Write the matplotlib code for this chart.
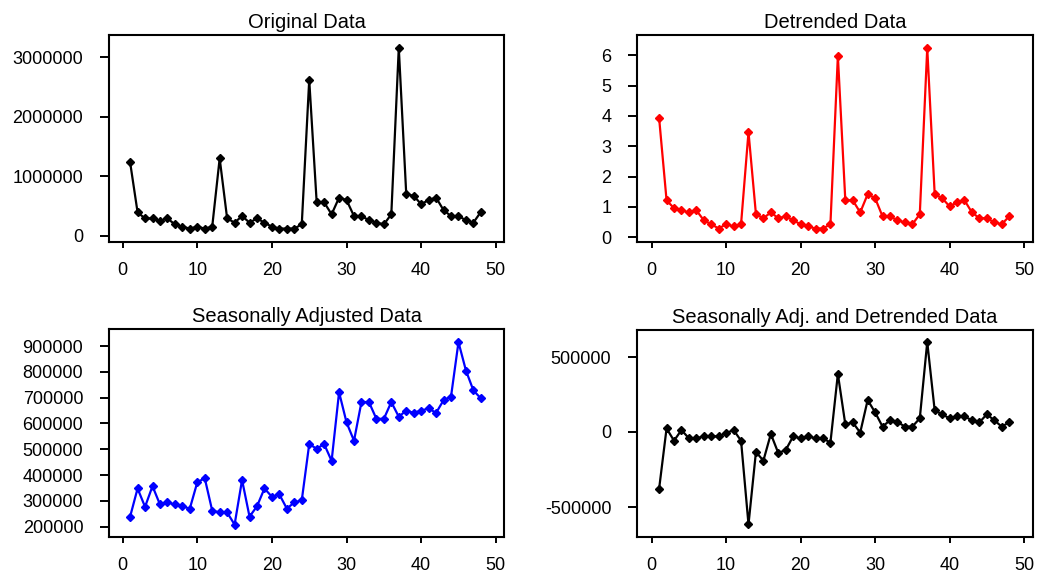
"""Four-panel view of a monthly series: original, detrended, seasonally adjusted, both."""

import numpy as np
import matplotlib
matplotlib.use('Agg')
import matplotlib.pyplot as plt

plt.rcParams['font.family'] = ['Liberation Sans', 'DejaVu Sans']

months = np.arange(1, 49)

original = [1234000, 393000, 290000, 290000, 250000, 290000, 190000, 150000,
            120000, 150000, 120000, 150000, 1300000, 290000, 220000, 330000,
            220000, 290000, 220000, 150000, 120000, 120000, 120000, 190000,
            2620000, 560000, 560000, 360000, 640000, 600000, 330000, 330000,
            260000, 220000, 190000, 360000, 3160000, 700000, 670000, 530000,
            600000, 640000, 430000, 330000, 330000, 260000, 220000, 400000]

detrended = [3.93, 1.22, 0.96, 0.89, 0.82, 0.89, 0.56, 0.43, 0.29, 0.43, 0.36, 0.43,
             3.47, 0.76, 0.63, 0.82, 0.63, 0.69, 0.56, 0.43, 0.36, 0.29, 0.29, 0.43,
             5.98, 1.22, 1.22, 0.82, 1.42, 1.29, 0.69, 0.69, 0.56, 0.49, 0.43, 0.76,
             6.24, 1.42, 1.29, 1.02, 1.15, 1.22, 0.82, 0.63, 0.63, 0.49, 0.43, 0.69]

seas_adj = [239000, 348000, 277000, 357000, 286000, 294000, 286000, 279000,
            270000, 372000, 388000, 262000, 255000, 255000, 208000, 381000,
            239000, 279000, 348000, 316000, 325000, 270000, 294000, 302000,
            520000, 502000, 520000, 455000, 721000, 604000, 533000, 683000,
            683000, 618000, 618000, 683000, 626000, 650000, 641000, 650000,
            658000, 641000, 690000, 704000, 915000, 805000, 728000, 697000]

seas_adj_detr = [-378000, 24000, -58000, 13000, -42000, -42000, -29000, -29000,
                 -29000, -7000, 13000, -58000, -616000, -133000, -191000, -13000,
                 -140000, -120000, -29000, -42000, -29000, -42000, -42000, -71000,
                 387000, 51000, 64000, -4000, 213000, 131000, 36000, 78000,
                 67000, 36000, 36000, 91000, 600000, 144000, 118000, 91000,
                 104000, 104000, 78000, 64000, 118000, 78000, 36000, 64000]

x_ticks = [0, 10, 20, 30, 40, 50]

fig = plt.figure(figsize=(10.4, 5.76), dpi=100)
W, H = 1040, 576


def make_ax(left, top, right, bottom):
    return fig.add_axes([left / W, 1 - bottom / H, (right - left) / W, (bottom - top) / H])


panels = [
    (make_ax(109, 35, 504, 242), original, 'black', "Original Data",
     (-1.83, 51.1), (-106000, 3375000), [0, 1000000, 2000000, 3000000]),
    (make_ax(637, 35, 1033, 242), detrended, 'red', "Detrended Data",
     (-1.97, 51.2), (-0.155, 6.67), [0, 1, 2, 3, 4, 5, 6]),
    (make_ax(109, 329, 504, 537), seas_adj, 'blue', "Seasonally Adjusted Data",
     (-1.83, 51.1), (160000, 966000), list(range(200000, 900001, 100000))),
    (make_ax(637, 330, 1033, 537), seas_adj_detr, 'black', "Seasonally Adj. and Detrended Data",
     (-1.97, 51.2), (-700000, 680000), [-500000, 0, 500000]),
]

for ax, values, color, title, xlim, ylim, yticks in panels:
    ax.plot(months, values, color=color, lw=1.6, marker='D', ms=4.5)
    ax.set_xlim(*xlim)
    ax.set_ylim(*ylim)
    ax.set_xticks(x_ticks)
    ax.set_yticks(yticks)
    ax.set_yticklabels([str(v) for v in yticks])
    ax.set_title(title, fontsize=14.5, pad=5)
    ax.tick_params(labelsize=13, width=1.4, direction='out')
    ax.tick_params(axis='x', length=4.5, pad=10)
    ax.tick_params(axis='y', length=6.5, pad=12)
    for side in ax.spines.values():
        side.set_linewidth(1.5)

fig.savefig('out.png', dpi=100)
plt.close(fig)
